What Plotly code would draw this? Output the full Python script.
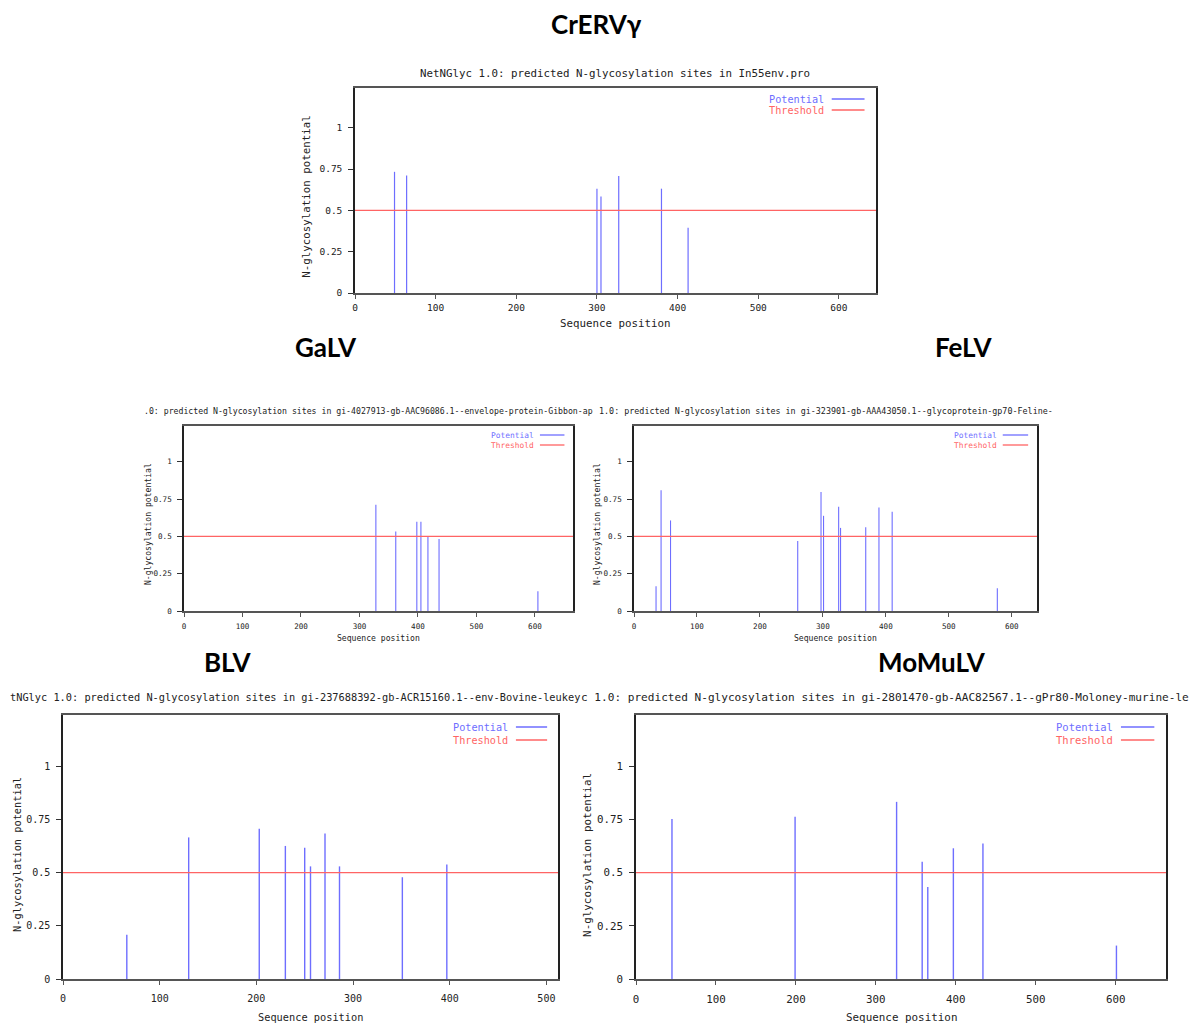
import plotly.graph_objects as go

W, H = 1195, 1024

# ---------------- data ----------------
crerv_pos = [49, 64, 300, 305, 327, 380, 413]
crerv_pot = [0.733, 0.711, 0.631, 0.584, 0.707, 0.631, 0.395]

galv_pos = [328, 362, 398, 405, 417, 436, 605]
galv_pot = [0.712, 0.533, 0.598, 0.598, 0.501, 0.483, 0.133]

felv_pos = [35, 43, 58, 260, 297, 301, 325, 328, 368, 389, 410, 577]
felv_pot = [0.166, 0.809, 0.607, 0.470, 0.798, 0.638, 0.699, 0.557, 0.562, 0.694, 0.665, 0.153]

blv_pos = [66, 130, 203, 230, 250, 256, 271, 286, 351, 397]
blv_pot = [0.208, 0.665, 0.706, 0.625, 0.616, 0.529, 0.683, 0.529, 0.478, 0.538]

momulv_pos = [45, 199, 326, 358, 365, 397, 434, 601]
momulv_pot = [0.751, 0.762, 0.832, 0.551, 0.432, 0.614, 0.637, 0.157]

threshold = 0.5
y_ticks = [0, 0.25, 0.5, 0.75, 1]
y_tick_labels = ["0", "0.25", "0.5", "0.75", "1"]

headings = ["CrERVγ", "GaLV", "FeLV", "BLV", "MoMuLV"]
titles = [
    "NetNGlyc 1.0: predicted N-glycosylation sites in In55env.pro",
    ".0: predicted N-glycosylation sites in gi-4027913-gb-AAC96086.1--envelope-protein-Gibbon-ap",
    "1.0: predicted N-glycosylation sites in gi-323901-gb-AAA43050.1--glycoprotein-gp70-Feline-",
    "tNGlyc 1.0: predicted N-glycosylation sites in gi-237688392-gb-ACR15160.1--env-Bovine-leukey",
    "c 1.0: predicted N-glycosylation sites in gi-2801470-gb-AAC82567.1--gPr80-Moloney-murine-le",
]
x_max = [646, 665, 640, 512, 663]

# ---------------- layout (pixel boxes) ----------------
panels = [
    dict(pos=crerv_pos, pot=crerv_pot, box=(355, 876, 88, 293), head=(596, 24),
         tanchor=("center", 615), ty=73, fs_title=10.8, fs_tick=9.5, fs_lab=10.8, fs_leg=10.2,
         ylab_shift=-48, xlab_shift=-30, lw=1.2, xstand=1, leg=(11, 22)),
    dict(pos=galv_pos, pot=galv_pot, box=(184, 573, 426, 611), head=(326, 347),
         tanchor=("left", 142), ty=411, fs_title=8.2, fs_tick=7.6, fs_lab=8.1, fs_leg=7.9,
         ylab_shift=-36, xlab_shift=-27, lw=1.1, xstand=3, leg=(9, 19)),
    dict(pos=felv_pos, pot=felv_pot, box=(634, 1037, 426, 611), head=(963, 347),
         tanchor=("left", 597), ty=411, fs_title=8.4, fs_tick=7.6, fs_lab=8.1, fs_leg=7.9,
         ylab_shift=-37, xlab_shift=-27, lw=1.1, xstand=3, leg=(9, 19)),
    dict(pos=blv_pos, pot=blv_pot, box=(63, 558, 715, 979), head=(227, 662),
         tanchor=("left", 8), ty=697, fs_title=10.3, fs_tick=10, fs_lab=10.3, fs_leg=10.2,
         ylab_shift=-46, xlab_shift=-38, lw=1.4, xstand=5, leg=(12, 25)),
    dict(pos=momulv_pos, pot=momulv_pot, box=(636, 1166, 715, 979), head=(932, 662),
         tanchor=("left", 579), ty=697, fs_title=11.1, fs_tick=10.8, fs_lab=10.9, fs_leg=10.5,
         ylab_shift=-48, xlab_shift=-38, lw=1.4, xstand=5, leg=(12, 25)),
]

BLUE = "#6e6eff"
RED = "#ff6464"
MONO = "DejaVu Sans Mono"

fig = go.Figure()
annotations = []
shapes = []
layout = dict(template="none", width=W, height=H, margin=dict(l=0, r=0, t=0, b=0, pad=0),
              paper_bgcolor="white", plot_bgcolor="white", showlegend=False)

for i, p in enumerate(panels):
    n = "" if i == 0 else str(i + 1)
    xa, ya = "x" + n, "y" + n
    L, R, T, B = p["box"]
    xdom = [L / W, R / W]
    ydom = [1 - B / H, 1 - T / H]

    # potential bars (vertical impulses)
    xs, ys = [], []
    for pos, pot in zip(p["pos"], p["pot"]):
        xs += [pos, pos, None]
        ys += [0, pot, None]
    fig.add_trace(go.Scatter(x=xs, y=ys, mode="lines", xaxis=xa, yaxis=ya,
                             line=dict(color=BLUE, width=p["lw"]), hoverinfo="skip"))
    # threshold line
    fig.add_trace(go.Scatter(x=[0, x_max[i]], y=[threshold, threshold], mode="lines",
                             xaxis=xa, yaxis=ya, line=dict(color=RED, width=1.3),
                             hoverinfo="skip"))

    layout["xaxis" + n] = dict(
        domain=xdom, range=[0, x_max[i]], anchor=ya, dtick=100, tick0=0,
        automargin=False, showgrid=False, zeroline=False, showline=True, mirror=True,
        linecolor="#555555", linewidth=1.5, ticks="outside", ticklen=4,
        ticklabelstandoff=p["xstand"],
        tickcolor="#555555", tickfont=dict(family=MONO, size=p["fs_tick"], color="#222"),
        fixedrange=True)
    layout["yaxis" + n] = dict(
        domain=ydom, range=[0, 1.24], anchor=xa, tickvals=y_ticks, ticktext=y_tick_labels,
        automargin=False, showgrid=False, zeroline=False, showline=True, mirror=True,
        linecolor="#222222", linewidth=1.5, ticks="outside", ticklen=5,
        tickcolor="#333333", ticklabelstandoff=4,
        tickfont=dict(family=MONO, size=p["fs_tick"], color="#222"), fixedrange=True)

    # heading
    hx, hy = p["head"]
    annotations.append(dict(text="<b>%s</b>" % headings[i], x=hx / W, y=1 - hy / H,
                            xref="paper", yref="paper", showarrow=False,
                            xanchor="center", yanchor="middle",
                            font=dict(family="Lato", size=26, color="black")))
    # plot title
    anc, tx = p["tanchor"]
    annotations.append(dict(text=titles[i], x=tx / W, y=1 - p["ty"] / H, xref="paper",
                            yref="paper", showarrow=False, xanchor=anc, yanchor="middle",
                            font=dict(family=MONO, size=p["fs_title"], color="#222")))
    # axis titles
    annotations.append(dict(text="Sequence position", x=0.5, y=0, xref=xa + " domain",
                            yref=ya + " domain", yshift=p["xlab_shift"], showarrow=False,
                            xanchor="center", yanchor="middle",
                            font=dict(family=MONO, size=p["fs_lab"], color="#222")))
    annotations.append(dict(text="N-glycosylation potential", x=0, y=0.5 - 0.03,
                            xref=xa + " domain", yref=ya + " domain", xshift=p["ylab_shift"],
                            textangle=-90, showarrow=False, xanchor="center",
                            yanchor="middle",
                            font=dict(family=MONO, size=p["fs_lab"], color="#222")))
    # in-plot legend
    for label, col, dy in [("Potential", BLUE, p["leg"][0]), ("Threshold", RED, p["leg"][1])]:
        annotations.append(dict(text=label, x=0.902, y=1, yshift=-dy, xref=xa + " domain",
                                yref=ya + " domain", showarrow=False, xanchor="right",
                                yanchor="middle", borderpad=0,
                                font=dict(family=MONO, size=p["fs_leg"], color=col)))
        yy = 1 - dy / (B - T)
        shapes.append(dict(type="line", xref=xa + " domain", yref=ya + " domain",
                           x0=0.915, x1=0.978, y0=yy, y1=yy,
                           line=dict(color=col, width=1.3)))

layout["annotations"] = annotations
layout["shapes"] = shapes
fig.update_layout(**layout)

fig.write_html("out.html", config={"displayModeBar": False, "responsive": False},
               post_script="document.body.style.margin='0';")
